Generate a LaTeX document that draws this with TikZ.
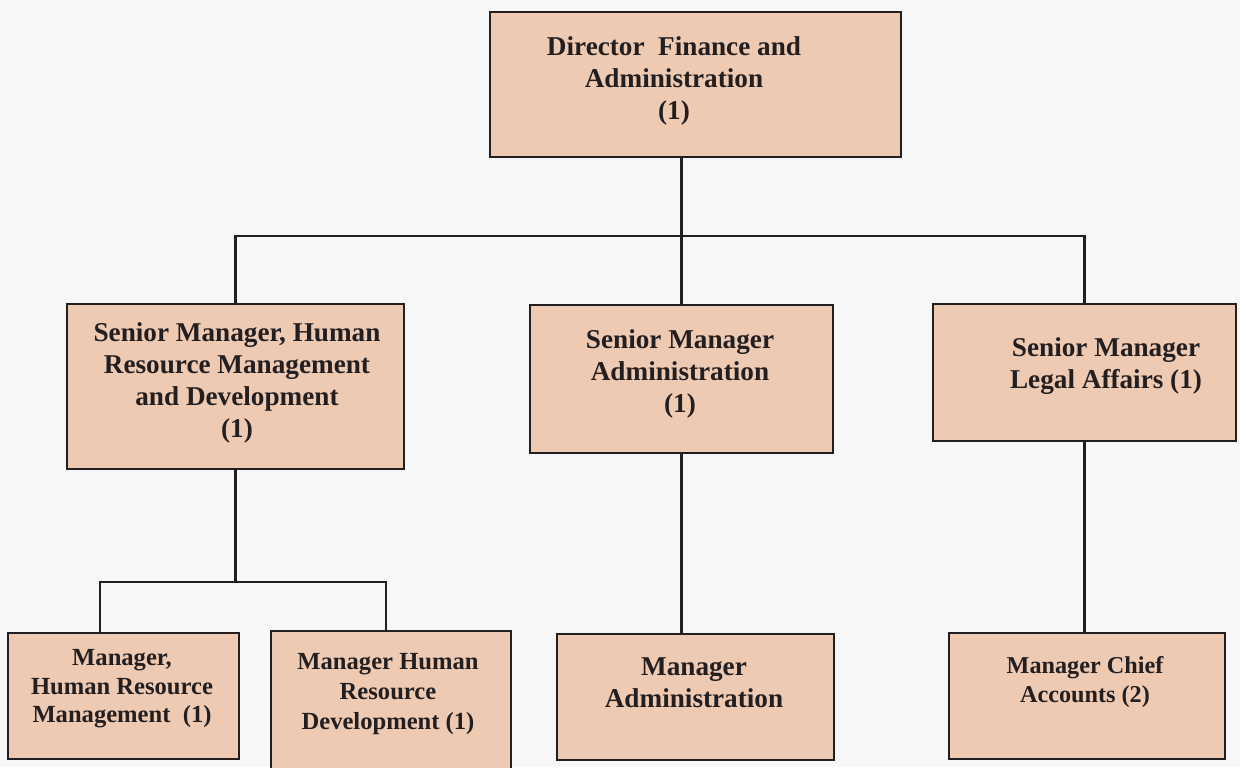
\documentclass[tikz,border=0pt]{standalone}
\usepackage{fontspec}
\setmainfont{Liberation Serif}
\usetikzlibrary{fit}
\definecolor{boxfill}{HTML}{EFCAB3}
\definecolor{linec}{HTML}{231F20}
\definecolor{paper}{HTML}{F7F7F7}
\begin{document}
\begin{tikzpicture}[x=0.5pt,y=-0.5pt,
  box/.style={draw=linec, fill=boxfill, line width=1.4pt, inner sep=0pt},
  boxtext/.style={align=center, inner sep=0pt, text=linec,
    font=\bfseries\fontsize{13.6}{16}\selectfont},
  boxtextsmall/.style={align=center, inner sep=0pt, text=linec,
    font=\bfseries\fontsize{12.3}{14.2}\selectfont},
  wire/.style={draw=linec, line width=1.4pt}]
  % page
  \fill[paper] (0,0) rectangle (1240,767);
  \useasboundingbox (0,0) rectangle (1240,767);
  \clip (0,0) rectangle (1240,767);

  % boxes
  \node[box, fit={(490,12) (901,157)}] (top) {};
  \node[box, fit={(67,304) (404,469)}] (lm) {};
  \node[box, fit={(530,305) (833,453)}] (cm) {};
  \node[box, fit={(933,304) (1236,441)}] (rm) {};
  \node[box, fit={(8,633) (239,759)}] (bl1) {};
  \node[box, fit={(271,631) (511,780)}] (bl2) {};
  \node[box, fit={(557,634) (834,760)}] (bm) {};
  \node[box, fit={(949,633) (1225,759)}] (br) {};

  % box texts
  \node[boxtext] (ttop) at (674,80.5) {Director~ Finance and\\Administration\\(1)};
  \node[boxtext] (tlm) at (237,383) {Senior Manager, Human\\Resource Management\\and Development\\(1)};
  \node[boxtext] (tcm) at (680,374) {Senior Manager\\Administration\\(1)};
  \node[boxtext] (trm) at (1106,366) {Senior Manager\\Legal Affairs (1)};
  \node[boxtextsmall] (tbl1) at (122,689) {Manager,\\Human Resource\\Management~ (1)};
  \node[boxtextsmall, font=\bfseries\fontsize{12.3}{15}\selectfont] (tbl2) at (388,694.5) {Manager Human\\Resource\\Development (1)};
  \node[boxtext] (tbm) at (694,683) {Manager\\Administration};
  \node[boxtextsmall, font=\bfseries\fontsize{12.1}{14.5}\selectfont] (tbr) at (1085,682) {Manager Chief\\Accounts (2)};

  % junction points
  \coordinate (hub) at (682,236);
  \coordinate (drop1) at (100,582);
  \coordinate (drop2) at (386,582);

  % connectors
  \draw[wire] (top.south -| cm.north) -- (cm.north);
  \draw[wire] (lm.north) |- (hub) -| (rm.north);
  \draw[wire] (lm.south) -- (lm.south |- drop1);
  \draw[wire] (drop1 |- bl1.north) |- (drop2) -- (drop2 |- bl2.north);
  \draw[wire] (cm.south) -- (cm.south |- bm.north);
  \draw[wire] (rm.south) -- (rm.south |- br.north);
\end{tikzpicture}
\end{document}
